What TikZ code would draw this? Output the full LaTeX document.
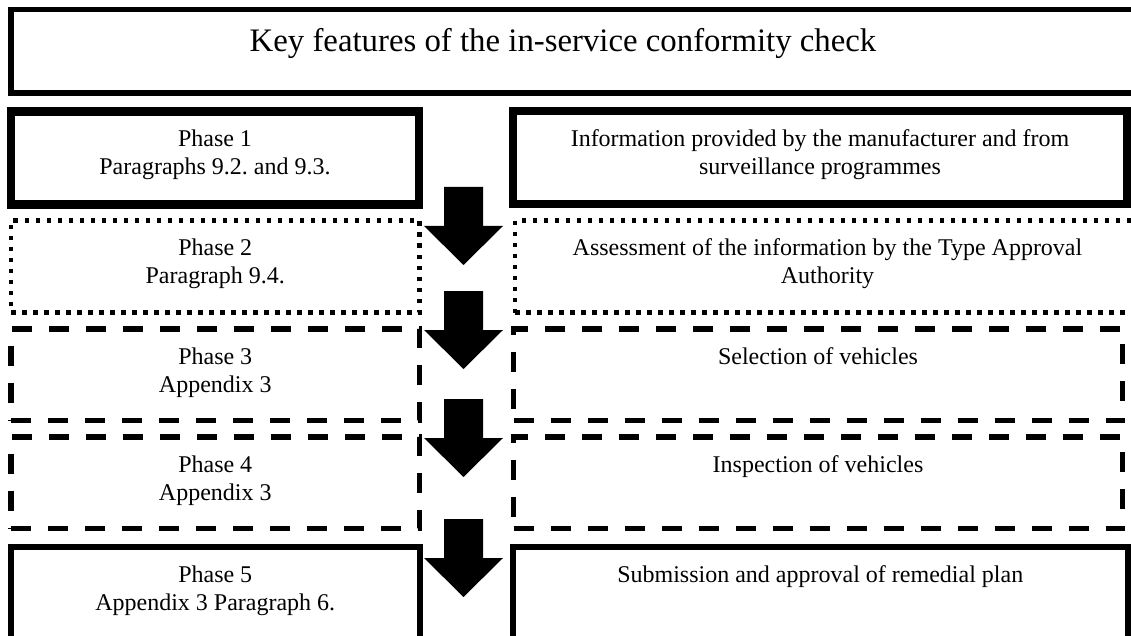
\documentclass[tikz,border=0pt]{standalone}
\usepackage{fontspec}
\setmainfont{Liberation Serif}
\frenchspacing
\begin{document}
\begin{tikzpicture}[x=1pt,y=-1pt,
  solidbox/.style={draw=black, line width=#1, rectangle, inner sep=0pt, outer sep=0pt},
  dotbox/.style={draw=black, line width=4.5pt, dash pattern=on 4.5pt off 6.5pt, rectangle, inner sep=0pt, outer sep=0pt},
  dashbox/.style={draw=black, line width=5.5pt, dash pattern=on 20pt off 17pt, rectangle, inner sep=0pt, outer sep=0pt},
  txt/.style={font=\fontsize{24}{28}\selectfont\frenchspacing, align=center, inner sep=0pt, anchor=base},
  titletxt/.style={font=\fontsize{32.8}{39}\selectfont, inner sep=0pt, anchor=base},
  blockarrow/.pic={\fill[black] (-19.5,0) -- (19.5,0) -- (19.5,39) -- (39.5,39) -- (0,78) -- (-39.5,39) -- (-19.5,39) -- cycle;}
]
\useasboundingbox (0,0) rectangle (1131,636);
\clip (0,0) rectangle (1131,636);
\fill[white] (0,0) rectangle (1131,636);

% title box
\node[solidbox=5.5pt, minimum width=1125pt, minimum height=83.3pt] (top) at (573.5,51.35) {};
\node[titletxt] (toptxt) at ([xshift=-10.5pt,yshift=-42.3pt]top.north) {Key features of the in-service conformity check};

% phase 1
\node[solidbox=8.5pt, minimum width=408pt, minimum height=93pt] (p1l) at (215,158) {};
\node[solidbox=8pt, minimum width=614pt, minimum height=93pt] (p1r) at (820,158) {};
% phase 2
\node[dotbox, minimum width=408.5pt, minimum height=92pt] (p2l) at (215.25,266.5) {};
\node[dotbox, minimum width=625pt, minimum height=92pt] (p2r) at (827.5,266.5) {};
% phase 3
\node[dashbox, minimum width=408.5pt, minimum height=91.5pt] (p3l) at (215.25,374.75) {};
\node[dashbox, minimum width=609pt, minimum height=91.5pt] (p3r) at (818,374.75) {};
% phase 4
\node[dashbox, minimum width=408.5pt, minimum height=91.5pt] (p4l) at (215.25,482.75) {};
\node[dashbox, minimum width=609pt, minimum height=91.5pt] (p4r) at (818,482.75) {};
% phase 5
\node[solidbox=6pt, minimum width=408.5pt, minimum height=93pt] (p5l) at (215.25,593.5) {};
\node[solidbox=6pt, minimum width=614.5pt, minimum height=93pt] (p5r) at (820.25,593.5) {};

% texts (base anchor = baseline of the last line)
\node[txt] (p1lt) at ([yshift=-63pt]p1l.north) {Phase 1\\Paragraphs 9.2. and 9.3.};
\node[txt] (p1rt) at ([yshift=-63pt]p1r.north) {Information provided by the manufacturer and from\\surveillance programmes};
\node[txt] (p2lt) at ([yshift=-63pt]p2l.north) {Phase 2\\Paragraph 9.4.};
\node[txt] (p2rt) at ([yshift=-63pt]p2r.north) {Assessment of the information by the Type Approval\\Authority};
\node[txt] (p3lt) at ([yshift=-63pt]p3l.north) {Phase 3\\Appendix 3};
\node[txt] (p3rt) at ([yshift=-35pt]p3r.north) {Selection of vehicles};
\node[txt] (p4lt) at ([yshift=-63pt]p4l.north) {Phase 4\\Appendix 3};
\node[txt] (p4rt) at ([yshift=-35pt]p4r.north) {Inspection of vehicles};
\node[txt] (p5lt) at ([yshift=-63pt]p5l.north) {Phase 5\\Appendix 3 Paragraph 6.};
\node[txt] (p5rt) at ([yshift=-35pt]p5r.north) {Submission and approval of remedial plan};

% block arrows
\coordinate (a1) at (463.5,187);
\coordinate (a2) at (463.5,291);
\coordinate (a3) at (463.5,399);
\coordinate (a4) at (463.5,519);
\pic at (a1) {blockarrow};
\pic at (a2) {blockarrow};
\pic at (a3) {blockarrow};
\pic at (a4) {blockarrow};
\end{tikzpicture}
\end{document}
